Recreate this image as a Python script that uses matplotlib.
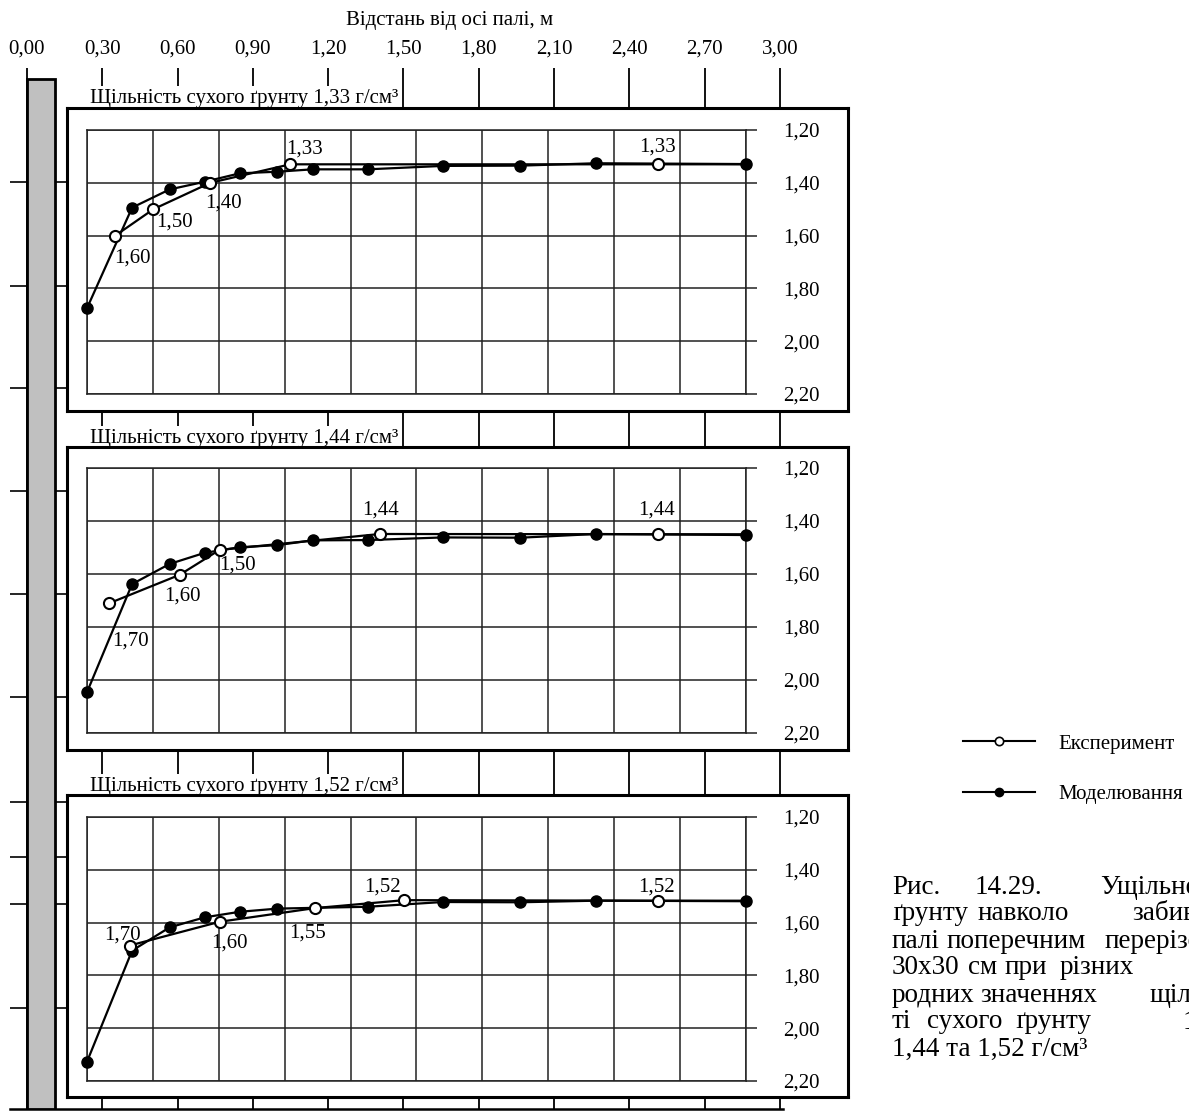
import numpy as np
import matplotlib
matplotlib.use("Agg")
import matplotlib.pyplot as plt
from matplotlib.lines import Line2D
from matplotlib.patches import Rectangle

plt.rcParams['font.family'] = ['Liberation Serif', 'DejaVu Serif']

# ---- data -------------------------------------------------------------
top_ticks = [0.0, 0.3, 0.6, 0.9, 1.2, 1.5, 1.8, 2.1, 2.4, 2.7, 3.0]
top_labels = ["0,00", "0,30", "0,60", "0,90", "1,20", "1,50",
              "1,80", "2,10", "2,40", "2,70", "3,00"]
dens_ticks = [1.2, 1.4, 1.6, 1.8, 2.0, 2.2]
dens_labels = ["1,20", "1,40", "1,60", "1,80", "2,00", "2,20"]

panel_titles = ["Щільність сухого ґрунту 1,33 г/см³",
                "Щільність сухого ґрунту 1,44 г/см³",
                "Щільність сухого ґрунту 1,52 г/см³"]

# modelling (filled points)
mod_x1 = [0.24, 0.42, 0.57, 0.71, 0.85, 1.00, 1.14, 1.36, 1.66, 1.97, 2.27, 2.87]
mod_y1 = [1.875, 1.494, 1.425, 1.396, 1.364, 1.358, 1.349, 1.349, 1.336, 1.335, 1.326, 1.329]
mod_x2 = [0.24, 0.42, 0.57, 0.71, 0.85, 1.00, 1.14, 1.36, 1.66, 1.97, 2.27, 2.87]
mod_y2 = [2.046, 1.638, 1.562, 1.520, 1.499, 1.491, 1.473, 1.472, 1.462, 1.463, 1.449, 1.453]
mod_x3 = [0.24, 0.42, 0.57, 0.71, 0.85, 1.00, 1.36, 1.66, 1.97, 2.27, 2.87]
mod_y3 = [2.127, 1.706, 1.618, 1.580, 1.559, 1.547, 1.540, 1.522, 1.523, 1.517, 1.519]

# experiment (open points), last point only continues the line
exp_x1 = [0.353, 0.505, 0.732, 1.051, 2.519, 2.87]
exp_y1 = [1.60, 1.50, 1.40, 1.33, 1.33, 1.33]
exp_x2 = [0.327, 0.610, 0.769, 1.409, 2.519, 2.87]
exp_y2 = [1.711, 1.603, 1.509, 1.449, 1.450, 1.450]
exp_x3 = [0.410, 0.769, 1.150, 1.506, 2.519, 2.87]
exp_y3 = [1.687, 1.597, 1.545, 1.515, 1.517, 1.517]

exp_lab1 = ["1,60", "1,50", "1,40", "1,33", "1,33"]
exp_lab2 = ["1,70", "1,60", "1,50", "1,44", "1,44"]
exp_lab3 = ["1,70", "1,60", "1,55", "1,52", "1,52"]

caption = ["Рис. 14.29. Ущільнення",
           "ґрунту навколо забивної",
           "палі поперечним перерізом",
           "30х30 см при різних по-",
           "родних значеннях щільнос-",
           "ті сухого ґрунту 1,33,",
           "1,44 та 1,52 г/см³"]

# ---- layout (pixels) --------------------------------------------------
W, H = 1189, 1111
FS = 15


def box(l, t, r, b):
    return [l / W, 1 - b / H, (r - l) / W, (b - t) / H]


PX_PER_M = 251.0
X0 = 27.0


def m(px):
    return (px - X0) / PX_PER_M


fig = plt.figure(figsize=(W / 100, H / 100), dpi=100)

# outer frame: top distance axis, left ticks, pile
axo = fig.add_axes(box(10, 68, 783, 1109), zorder=0)
axo.set_xlim(m(10), m(783))
axo.set_ylim(1109, 68)
axo.set_xticks(top_ticks)
axo.set_xticklabels(top_labels, fontsize=FS)
axo.xaxis.tick_top()
axo.tick_params(axis='x', length=0, pad=7)
axo.grid(axis='x', color='black', lw=1.3)
axo.set_yticks([182, 286, 388, 491, 594, 697, 802, 857, 904, 1008])
axo.set_yticklabels([])
axo.tick_params(axis='y', direction='in', length=41, width=1.2)
for s in ['top', 'right', 'left']:
    axo.spines[s].set_visible(False)
axo.spines['bottom'].set_linewidth(1.8)
axo.patch.set_alpha(0)
axo.add_patch(Rectangle((0, 79), m(55), 1109 - 79, facecolor='#c0c0c0',
                        edgecolor='black', lw=2, zorder=5))
fig.text(450 / W, 1 - 20 / H, "Відстань від осі палі, м", fontsize=FS,
         ha='center', va='center')

frames = [(108, 411), (447, 750), (795, 1097)]
grids = [(130, 394), (468, 733), (817, 1081)]
title_base = [103, 443, 791]
panels = [(mod_x1, mod_y1, exp_x1, exp_y1, exp_lab1),
          (mod_x2, mod_y2, exp_x2, exp_y2, exp_lab2),
          (mod_x3, mod_y3, exp_x3, exp_y3, exp_lab3)]
offsets = [[(17, 22), (21, 13), (13, 20), (14, -15), (-1, -17)],
           [(22, 38), (3, 21), (18, 15), (1, -24), (-2, -24)],
           [(-7, -11), (10, 21), (-7, 25), (-22, -13), (-2, -14)]]

for i in range(3):
    ft, fb = frames[i]
    fr = fig.add_axes(box(67, ft, 848, fb), zorder=2)
    fr.set_xticks([])
    fr.set_yticks([])
    for s in fr.spines.values():
        s.set_linewidth(2.2)

    fig.text(90 / W, 1 - title_base[i] / H, panel_titles[i], fontsize=FS,
             va='baseline', ha='left', zorder=1,
             bbox=dict(facecolor='white', edgecolor='none', pad=2))

    gt, gb = grids[i]
    ax = fig.add_axes(box(87, gt, 746, gb), zorder=3)
    ax.patch.set_alpha(0)
    ax.set_xlim(0.24, 2.87)
    ax.set_ylim(2.2, 1.2)
    ax.set_xticks(np.linspace(0.24, 2.87, 11))
    ax.set_xticklabels([])
    ax.tick_params(axis='x', length=0)
    ax.set_yticks(dens_ticks)
    ax.set_yticklabels(dens_labels, fontsize=FS)
    ax.yaxis.tick_right()
    ax.tick_params(axis='y', length=8, width=1.1, color='#222222', pad=19)
    ax.grid(color='#222222', lw=1.1)
    for s in ax.spines.values():
        s.set_color('#222222')
        s.set_linewidth(1.1)

    mx, my, ex, ey, labs = panels[i]
    ax.plot(mx, my, color='black', lw=1.6, marker='o', ms=8,
            mfc='black', mec='black', clip_on=False, zorder=4)
    ax.plot(ex, ey, color='black', lw=1.6, marker='o', ms=8,
            mfc='white', mec='black', mew=1.5,
            markevery=list(range(len(ex) - 1)), clip_on=False, zorder=5)
    for j, lab in enumerate(labs):
        dx, dy = offsets[i][j]
        ax.annotate(lab, (ex[j], ey[j]), xytext=(dx * 0.72, -dy * 0.72),
                    textcoords='offset points', fontsize=FS,
                    ha='center', va='center', zorder=6)

# legend
handles = [Line2D([], [], color='black', lw=1.5, marker='o', ms=6,
                  mfc='white', mec='black', mew=1.2),
           Line2D([], [], color='black', lw=1.5, marker='o', ms=6,
                  mfc='black', mec='black')]
fig.legend(handles, ["Експеримент", "Моделювання"], loc='upper left',
           bbox_to_anchor=(963 / W, 1 - 734 / H), frameon=False,
           fontsize=15, handlelength=3.46, handletextpad=1.1,
           labelspacing=1.5, borderpad=0, borderaxespad=0)

# caption (justified words)
cap_x = [[892, 975, 1100],
         [892, 978, 1132],
         [892, 947, 1105],
         [892, 968, 1005, 1060],
         [892, 980, 1150],
         [892, 927, 1015, 1183],
         [892]]
cap_y = [887, 914, 941, 968, 995, 1022, 1049]
for k, line in enumerate(caption):
    words = line.split(" ") if len(cap_x[k]) > 1 else [line]
    for w, x in zip(words, cap_x[k]):
        fig.text(x / W, 1 - cap_y[k] / H, w, fontsize=19.5, ha='left',
                 va='center')

fig.savefig("out.png", dpi=100)
